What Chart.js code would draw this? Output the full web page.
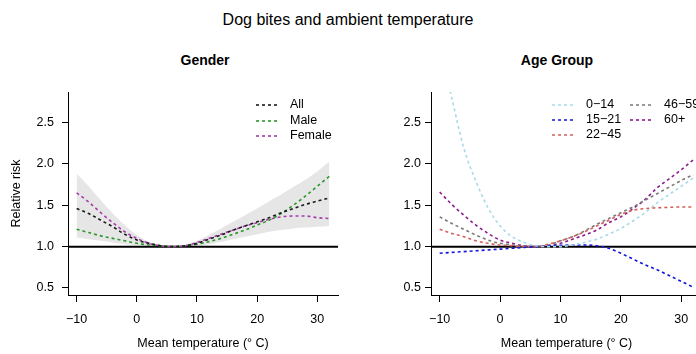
<!DOCTYPE html>
<html>
<head>
<meta charset="utf-8">
<script src="https://cdn.jsdelivr.net/npm/chart.js@4.4.1/dist/chart.umd.min.js"></script>
<style>
body { margin:0; width:696px; height:354px; overflow:hidden; background:#fff; position:relative; font-family:"Liberation Sans", Arial, sans-serif; }
.ttl { position:absolute; white-space:nowrap; transform:translate(-50%,-50%); color:#000; }
#main { left:348px; top:20px; font-size:16px; }
.sub { top:60px; font-size:14px; font-weight:bold; }
#gl { position:absolute; left:0; top:0; }
#gr { position:absolute; left:348px; top:0; }
</style>
</head>
<body>
<div class="ttl" id="main">Dog bites and ambient temperature</div>
<div class="ttl sub" style="left:205px">Gender</div>
<div class="ttl sub" style="left:557px">Age Group</div>
<canvas id="gl" width="348" height="354"></canvas>
<canvas id="gr" width="360" height="354"></canvas>
<script>
// mean temperature (deg C) where the curves were read
var temps = [-10,-8,-6,-4,-2,0,2,4,6,8,10,12,14,16,18,20,22,24,26,28,30,32];
var xTicks = [-10,0,10,20,30];
var yTicks = [0.5,1.0,1.5,2.0,2.5];

// Gender panel
var allRisk    = [1.46,1.40,1.32,1.24,1.15,1.08,1.04,1.01,1.00,1.01,1.04,1.09,1.14,1.20,1.25,1.30,1.35,1.41,1.46,1.51,1.55,1.59];
var maleRisk   = [1.21,1.17,1.13,1.10,1.07,1.04,1.02,1.01,1.00,1.01,1.03,1.06,1.10,1.15,1.20,1.26,1.32,1.40,1.50,1.61,1.73,1.85];
var femaleRisk = [1.65,1.54,1.41,1.29,1.18,1.10,1.04,1.01,1.00,1.01,1.05,1.10,1.15,1.20,1.25,1.29,1.33,1.36,1.37,1.37,1.35,1.34];
var bandUpper  = [1.88,1.73,1.56,1.40,1.26,1.14,1.06,1.02,1.00,1.02,1.07,1.14,1.22,1.30,1.38,1.46,1.55,1.63,1.72,1.81,1.91,2.03];
var bandLower  = [1.11,1.09,1.07,1.05,1.03,1.02,1.01,1.00,1.00,1.00,1.01,1.03,1.06,1.09,1.12,1.15,1.18,1.20,1.22,1.23,1.24,1.25];

// Age group panel
var age0_14   = [3.45,2.80,2.19,1.79,1.47,1.25,1.12,1.05,1.01,1.00,1.00,1.02,1.05,1.09,1.15,1.22,1.31,1.41,1.53,1.63,1.73,1.83];
var age15_21  = [0.92,0.93,0.94,0.95,0.96,0.97,0.98,0.99,1.00,1.01,1.015,1.02,1.02,1.01,0.98,0.92,0.85,0.78,0.72,0.65,0.58,0.51];
var age22_45  = [1.21,1.16,1.12,1.07,1.04,1.02,1.01,1.00,1.00,1.03,1.07,1.12,1.18,1.25,1.32,1.39,1.44,1.46,1.47,1.475,1.48,1.48];
var age46_59  = [1.36,1.28,1.21,1.14,1.08,1.04,1.02,1.00,1.00,1.02,1.07,1.12,1.19,1.27,1.34,1.41,1.48,1.56,1.64,1.72,1.80,1.87];
var age60plus = [1.66,1.51,1.38,1.26,1.16,1.08,1.04,1.01,1.00,1.01,1.04,1.09,1.14,1.20,1.29,1.36,1.46,1.57,1.71,1.82,1.93,2.05];

var FONT = '"Liberation Sans", Arial, sans-serif';
var tickFont = { family: FONT, size: 12.5 };

var pts = function(vals) {
	return vals.map(function(v, i) { return { x: temps[i], y: v }; });
};

var curve = function(label, vals, colour) {
	return {
		label: label,
		data: pts(vals),
		borderColor: colour,
		backgroundColor: colour,
		borderWidth: 1.6,
		borderDash: [3, 3],
		pointRadius: 0,
		fill: false,
		cubicInterpolationMode: 'monotone',
		order: 0
	};
};

// horizontal line at RR = 1
var refLine = {
	id: 'refLine',
	beforeDatasetsDraw: function(chart) {
		var ctx = chart.ctx, a = chart.chartArea;
		var y = chart.scales.y.getPixelForValue(1);
		ctx.save();
		ctx.strokeStyle = '#000';
		ctx.lineWidth = 2;
		ctx.beginPath();
		ctx.moveTo(a.left, y);
		ctx.lineTo(a.right, y);
		ctx.stroke();
		ctx.restore();
	}
};

// R style legend, no box
var rLegend = {
	id: 'rLegend',
	afterDraw: function(chart, args, opts) {
		var ctx = chart.ctx;
		var items = chart.data.datasets.filter(function(d) { return d.label; });
		ctx.save();
		ctx.font = '12.5px ' + FONT;
		ctx.textBaseline = 'middle';
		ctx.textAlign = 'left';
		items.forEach(function(d, i) {
			var s = opts.slots[i];
			ctx.strokeStyle = d.borderColor;
			ctx.lineWidth = 1.6;
			ctx.setLineDash([3, 3]);
			ctx.beginPath();
			ctx.moveTo(s.x, s.y);
			ctx.lineTo(s.x + 22, s.y);
			ctx.stroke();
			ctx.fillStyle = '#000';
			ctx.fillText(d.label, s.x + 34, s.y);
		});
		ctx.restore();
	}
};

var makeOptions = function(yWidth, yPad, showYTitle, padRight, slots) {
	return {
		responsive: false,
		animation: false,
		layout: { padding: { top: 92, right: padRight, bottom: 0, left: 0 } },
		plugins: {
			legend: { display: false },
			tooltip: { enabled: false },
			filler: { propagate: false, drawTime: 'beforeDatasetsDraw' },
			rLegend: { slots: slots }
		},
		scales: {
			x: {
				type: 'linear',
				min: -11.44,
				max: 33.44,
				afterBuildTicks: function(s) { s.ticks = xTicks.map(function(v) { return { value: v }; }); },
				afterFit: function(s) { s.height = 59; },
				border: { display: true, color: '#000', width: 1 },
				grid: { drawOnChartArea: false, drawTicks: true, tickLength: 7, color: '#000' },
				ticks: {
					color: '#000', font: tickFont, padding: 10, maxRotation: 0, autoSkip: false,
					callback: function(v) { return v < 0 ? '\u2212' + Math.abs(v) : String(v); }
				},
				title: { display: true, text: 'Mean temperature (\u00b0 C)', color: '#000', font: tickFont, padding: { top: 0, bottom: 3 } }
			},
			y: {
				type: 'linear',
				min: 0.415,
				max: 2.87,
				afterBuildTicks: function(s) { s.ticks = yTicks.map(function(v) { return { value: v }; }); },
				afterFit: function(s) { s.width = yWidth; },
				border: { display: true, color: '#000', width: 1 },
				grid: { drawOnChartArea: false, drawTicks: true, tickLength: 6, color: '#000' },
				ticks: {
					color: '#000', font: tickFont, padding: yPad, autoSkip: false,
					callback: function(v) { return v.toFixed(1); }
				},
				title: { display: showYTitle, text: 'Relative risk', color: '#000', font: tickFont, padding: { top: 9.5, bottom: 0 } }
			}
		}
	};
};

new Chart(document.getElementById('gl').getContext('2d'), {
	type: 'line',
	data: {
		datasets: [
			{ data: pts(bandUpper), borderColor: 'rgba(0,0,0,0)', borderWidth: 0, pointRadius: 0, backgroundColor: '#e6e6e6', fill: '+1', cubicInterpolationMode: 'monotone', order: 10 },
			{ data: pts(bandLower), borderColor: 'rgba(0,0,0,0)', borderWidth: 0, pointRadius: 0, fill: false, cubicInterpolationMode: 'monotone', order: 11 },
			curve('All', allRisk, '#1a1a1a'),
			curve('Male', maleRisk, '#2a982a'),
			curve('Female', femaleRisk, '#a83ca8')
		]
	},
	options: makeOptions(68, 8, true, 10, [
		{ x: 256, y: 105 }, { x: 256, y: 121 }, { x: 256, y: 136 }
	]),
	plugins: [refLine, rLegend]
});

new Chart(document.getElementById('gr').getContext('2d'), {
	type: 'line',
	data: {
		datasets: [
			curve('0\u221214', age0_14, '#a6dbe8'),
			curve('15\u221221', age15_21, '#1515e0'),
			curve('22\u221245', age22_45, '#d4605a'),
			curve('46\u221259', age46_59, '#7a7a7a'),
			curve('60+', age60plus, '#8e1a8e')
		]
	},
	options: makeOptions(83, 4, false, 6, [
		{ x: 204, y: 105 }, { x: 204, y: 120 }, { x: 204, y: 135 },
		{ x: 282, y: 105 }, { x: 282, y: 120 }
	]),
	plugins: [refLine, rLegend]
});
</script>
</body>
</html>
